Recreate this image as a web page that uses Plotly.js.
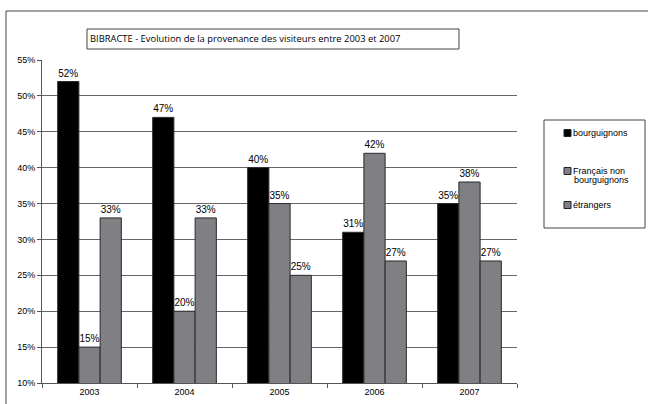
<!DOCTYPE html>
<html>
<head>
<meta charset="utf-8">
<script src="https://cdn.plot.ly/plotly-3.0.1.min.js"></script>
<style>html,body{margin:0;padding:0;background:#fff;}#chart{width:648px;height:404px;}</style>
</head>
<body>
<div id="chart"></div>
<script>
const years = ['2003', '2004', '2005', '2006', '2007'];
const bourguignons = [52, 47, 40, 31, 35];
const francaisNonBourguignons = [15, 20, 35, 42, 38];
const etrangers = [33, 33, 25, 27, 27];
const seriesNames = ['bourguignons', 'Français non bourguignons', 'étrangers'];
const legendLines = [['bourguignons'], ['Français non', 'bourguignons'], ['étrangers']];
const seriesColors = ['#000000', '#7f7f84', '#7f7f84'];
const yTicks = [10, 15, 20, 25, 30, 35, 40, 45, 50, 55];
const chartTitle = 'BIBRACTE - Evolution de la provenance des visiteurs entre 2003 et 2007';

const L = 42, R = 517, T = 60, B = 383;
const W = R - L, H = B - T;
const px = x => (x - L) / W;
const py = y => (B - y) / H;

function bar(vals, name, color) {
  return {
    type: 'bar', x: years, y: vals, name: name,
    marker: {color: color, line: {color: '#2a2a2a', width: 1}},
    text: vals.map(v => v + '%'), texttemplate: '%{text}', textposition: 'outside',
    textfont: {family: 'Arial, Liberation Sans', size: 10, color: '#000'},
    cliponaxis: false, hoverinfo: 'skip'
  };
}

const seriesValues = [bourguignons, francaisNonBourguignons, etrangers];
const data = seriesValues.map((v, i) => bar(v, seriesNames[i], seriesColors[i]));

// legend drawn by hand (box, swatches, labels)
const legendRowY = [133, 171, 205];
const legendShapes = [];
const legendAnnots = [];
legendRowY.forEach((y, i) => {
  legendShapes.push({type: 'rect', xref: 'paper', yref: 'paper',
    x0: px(564), x1: px(571), y0: py(y + 3.5), y1: py(y - 3.5),
    fillcolor: seriesColors[i], line: {color: '#222', width: 1}});
  legendLines[i].forEach((t, j) => {
    legendAnnots.push({xref: 'paper', yref: 'paper', x: px(j === 0 ? 571 : 572), y: py(y + j * 9),
      xanchor: 'left', yanchor: 'middle', text: t, showarrow: false,
      font: {family: 'Arial, Liberation Sans', size: 9, color: '#000'}});
  });
});

const layout = {
  width: 648, height: 404,
  margin: {l: L, r: 648 - R, t: T, b: 404 - B, pad: 0},
  paper_bgcolor: '#fff', plot_bgcolor: '#fff',
  barmode: 'group', bargap: 0.33, bargroupgap: 0,
  font: {family: 'Arial, Liberation Sans', size: 9, color: '#000'},
  showlegend: false,
  xaxis: {
    type: 'category', showline: true, linecolor: '#555', linewidth: 1,
    ticks: 'outside', tickson: 'boundaries', ticklen: 4, tickcolor: '#555',
    showgrid: false, tickfont: {size: 9}, fixedrange: true
  },
  yaxis: {
    range: [10, 55], tickvals: yTicks, ticktext: yTicks.map(v => v + '%'),
    showline: true, linecolor: '#555', linewidth: 1,
    ticks: 'outside', ticklen: 4, tickcolor: '#555',
    showgrid: true, gridcolor: '#666', gridwidth: 1, zeroline: false,
    tickfont: {size: 9}, fixedrange: true
  },
  shapes: [
    {type: 'rect', xref: 'paper', yref: 'paper', x0: px(6), x1: px(660), y0: py(11), y1: py(415),
     line: {color: '#444', width: 1}, fillcolor: 'rgba(0,0,0,0)'},
    {type: 'rect', xref: 'paper', yref: 'paper', x0: px(87), x1: px(459), y0: py(29), y1: py(49),
     line: {color: '#444', width: 1}, fillcolor: '#fff'},
    {type: 'rect', xref: 'paper', yref: 'paper', x0: px(544), x1: px(645), y0: py(120), y1: py(228),
     line: {color: '#444', width: 1}, fillcolor: 'rgba(0,0,0,0)'}
  ].concat(legendShapes),
  annotations: [
    {xref: 'paper', yref: 'paper', x: px(88), y: py(39), xanchor: 'left', yanchor: 'middle',
     text: chartTitle, showarrow: false,
     font: {family: 'Open Sans', size: 9.4, color: '#000'}}
  ].concat(legendAnnots)
};

Plotly.newPlot('chart', data, layout, {displayModeBar: false, staticPlot: true});
</script>
</body>
</html>
